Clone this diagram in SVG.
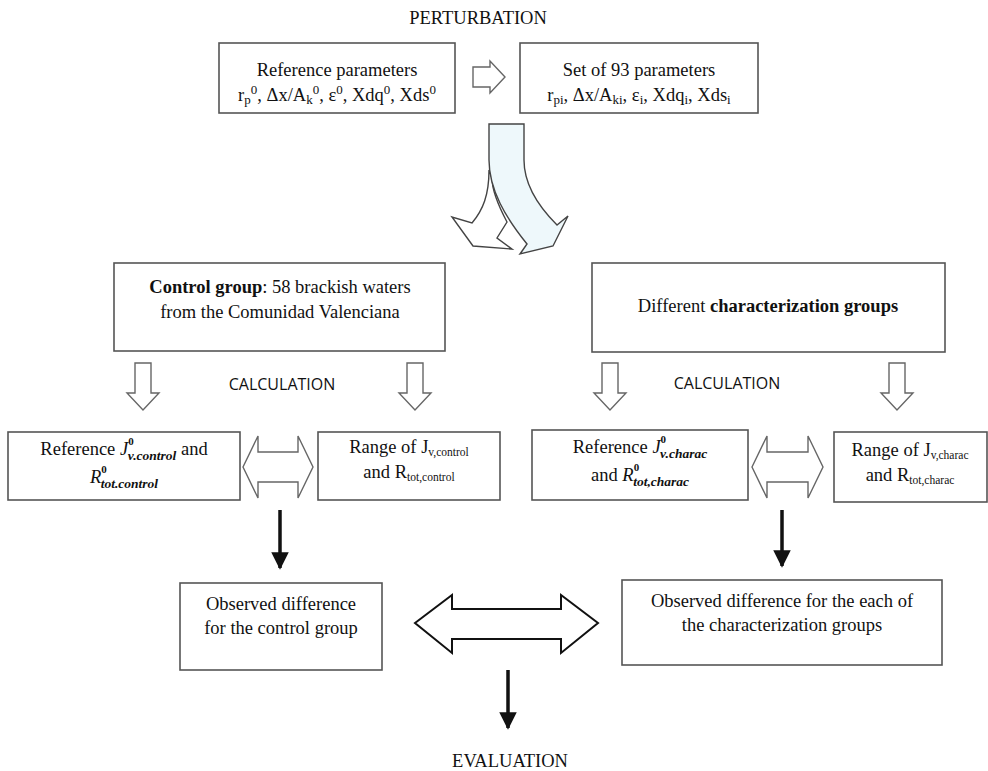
<svg xmlns="http://www.w3.org/2000/svg" width="988" height="771" viewBox="0 0 988 771">
<style>
.box{fill:#fff;stroke:#555;stroke-width:1.6}
.t{font-family:"Liberation Serif","Times New Roman",serif;font-size:18.5px;fill:#111;text-anchor:middle}
.c{font-family:"Open Sans","Liberation Sans",sans-serif;font-size:16px;fill:#111;text-anchor:middle}
.open{fill:#fff;stroke:#666;stroke-width:1.4}
.blk{stroke:#111;stroke-width:3.5}
.sm{font-size:11.5px}
.sm2{font-size:13px}
.m{font-weight:bold;font-style:italic;font-size:13.5px}
.sup{font-weight:bold;font-size:11px}
</style>
<defs>
<marker id="ah" viewBox="0 0 10 10" refX="9" refY="5" markerWidth="5" markerHeight="5" orient="auto" markerUnits="strokeWidth">
<path d="M0,0 L10,5 L0,10 Z" fill="#111"/>
</marker>
</defs>
<rect width="988" height="771" fill="#fff"/>
<text class="t" x="478" y="24" font-size="19">PERTURBATION</text>

<g id="ref-params">
<rect class="box" x="219" y="43" width="236" height="70"/>
<text class="t" x="337" y="76">Reference parameters</text>
<text class="t" x="337" y="101">r<tspan class="sm2" baseline-shift="-3">p</tspan><tspan class="sm2" baseline-shift="7">0</tspan>, Δx/A<tspan class="sm2" baseline-shift="-3">k</tspan><tspan class="sm2" baseline-shift="7">0</tspan>, ε<tspan class="sm2" baseline-shift="7">0</tspan>, Xdq<tspan class="sm2" baseline-shift="7">0</tspan>, Xds<tspan class="sm2" baseline-shift="7">0</tspan></text>
</g>
<g id="set93">
<rect class="box" x="520" y="43" width="238" height="70"/>
<text class="t" x="639" y="76">Set of 93 parameters</text>
<text class="t" x="639" y="101">r<tspan class="sm2" baseline-shift="-3">pi</tspan>, Δx/A<tspan class="sm2" baseline-shift="-3">ki</tspan>, ε<tspan class="sm2" baseline-shift="-3">i</tspan>, Xdq<tspan class="sm2" baseline-shift="-3">i</tspan>, Xds<tspan class="sm2" baseline-shift="-3">i</tspan></text>
</g>
<g id="control">
<rect class="box" x="114" y="263" width="331" height="88"/>
<text class="t" x="280" y="293" font-size="19"><tspan font-weight="bold">Control group</tspan>: 58 brackish waters</text>
<text class="t" x="280" y="318" font-size="19">from the Comunidad Valenciana</text>
</g>
<g id="charac">
<rect class="box" x="592" y="263" width="353" height="89"/>
<text class="t" x="768" y="312" font-size="19">Different <tspan font-weight="bold">characterization groups</tspan></text>
</g>
<text class="c" x="282" y="390">CALCULATION</text>
<text class="c" x="727" y="389">CALCULATION</text>

<g id="refJcontrol">
<rect class="box" x="8" y="432" width="232" height="68"/>
<text class="t" x="124" y="455" font-size="19.5">Reference <tspan font-style="italic">J</tspan><tspan class="sup" baseline-shift="10.5">0</tspan><tspan class="m" dx="-6" baseline-shift="-5">v.control</tspan> and</text>
<text class="t" x="124" y="483" font-size="19.5"><tspan font-style="italic">R</tspan><tspan class="sup" baseline-shift="10.5">0</tspan><tspan class="m" dx="-6" baseline-shift="-5">tot.control</tspan></text>
</g>
<g id="rangeJcontrol">
<rect class="box" x="318" y="432" width="182" height="68"/>
<text class="t" x="409" y="453" font-size="18">Range of J<tspan class="sm" baseline-shift="-3">v,control</tspan></text>
<text class="t" x="409" y="478" font-size="18">and R<tspan class="sm" baseline-shift="-3">tot,control</tspan></text>
</g>
<g id="refJcharac">
<rect class="box" x="532" y="430" width="216" height="70"/>
<text class="t" x="640" y="453" font-size="19.5">Reference <tspan font-style="italic">J</tspan><tspan class="sup" baseline-shift="10.5">0</tspan><tspan class="m" dx="-6" baseline-shift="-5">v.charac</tspan></text>
<text class="t" x="640" y="481" font-size="19.5">and <tspan font-style="italic">R</tspan><tspan class="sup" baseline-shift="10.5">0</tspan><tspan class="m" dx="-6" baseline-shift="-5">tot,charac</tspan></text>
</g>
<g id="rangeJcharac">
<rect class="box" x="834" y="432" width="153" height="70"/>
<text class="t" x="910" y="456" font-size="18">Range of J<tspan class="sm" baseline-shift="-3">v,charac</tspan></text>
<text class="t" x="910" y="481" font-size="18">and R<tspan class="sm" baseline-shift="-3">tot,charac</tspan></text>
</g>
<g id="obsControl">
<rect class="box" x="180" y="583" width="202" height="87"/>
<text class="t" x="281" y="610" font-size="20">Observed difference</text>
<text class="t" x="281" y="634" font-size="20">for the control group</text>
</g>
<g id="obsCharac">
<rect class="box" x="622" y="580" width="320" height="85"/>
<text class="t" x="782" y="607" font-size="20">Observed difference for the each of</text>
<text class="t" x="782" y="631" font-size="20">the characterization groups</text>
</g>
<text class="t" x="510" y="767" font-size="19.5">EVALUATION</text>

<g id="connectors">
<polygon class="open" points="473,67 490,67 490,61 505,77 490,93 490,87 473,87"/>
<path d="M489,170 C489,195 483,210 472,223 L452,217 L473,246 L512,249 L497,238 L507,222 C498,205 492,190 492,178 Z" fill="#fff" stroke="#444" stroke-width="1.4"/>
<path d="M489,124 L524,124 L524,160 C524,186 540,208 557,225 L568,216 L553,246 L520,254 L527,244 C506,218 489,190 489,160 Z" fill="#eef8fb" stroke="#444" stroke-width="1.4"/>
<polygon class="open" points="135,363 151,363 151,393 159,393 143,410 127,393 135,393"/>
<polygon class="open" points="407,363 423,363 423,393 431,393 415,410 399,393 407,393"/>
<polygon class="open" points="602,363 618,363 618,393 626,393 610,410 594,393 602,393"/>
<polygon class="open" points="889,363 905,363 905,393 913,393 897,410 881,393 889,393"/>
<polygon class="open" points="243,467 258,436 258,452 298,452 298,436 313,467 298,498 298,482 258,482 258,498"/>
<polygon class="open" points="752,467 767,436 767,452 808,452 808,436 823,467 808,498 808,482 767,482 767,498"/>
<polygon points="415,623 452,595 452,609 561,609 561,595 598,623 561,653 561,639 452,639 452,653" fill="#fff" stroke="#111" stroke-width="2"/>
<line class="blk" x1="280" y1="510" x2="280" y2="568" marker-end="url(#ah)"/>
<line class="blk" x1="782" y1="510" x2="782" y2="566" marker-end="url(#ah)"/>
<line class="blk" x1="508" y1="670" x2="508" y2="728" marker-end="url(#ah)"/>
</g>
</svg>
